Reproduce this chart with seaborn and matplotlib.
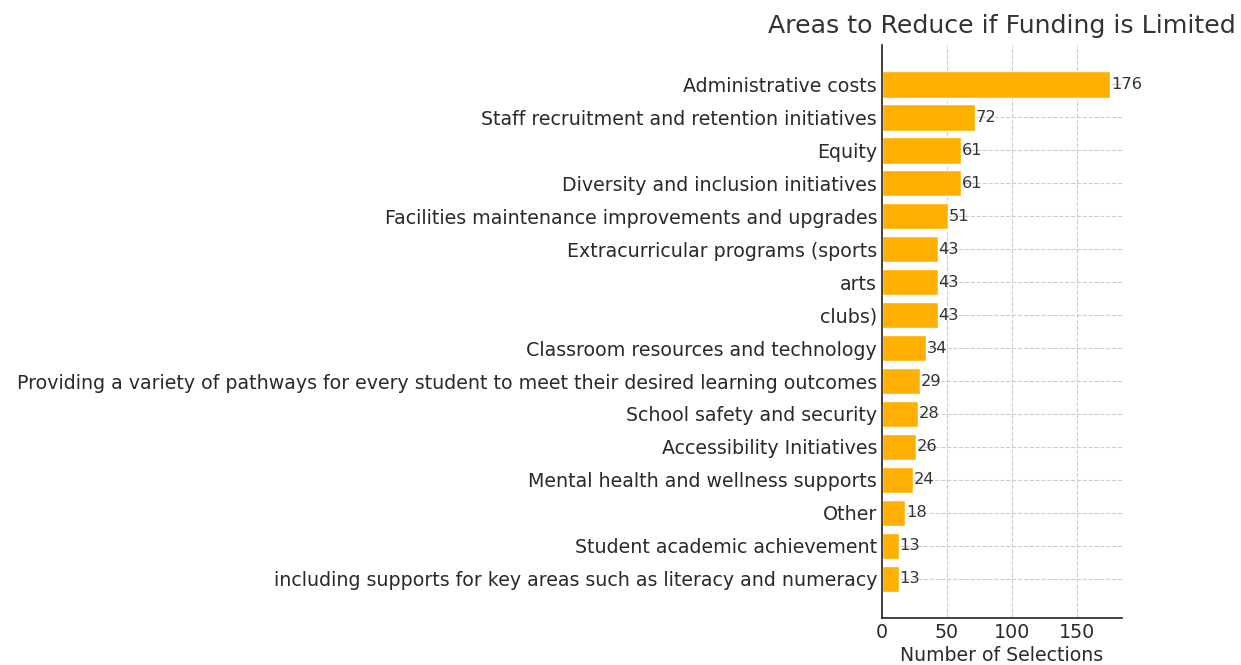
import matplotlib
matplotlib.use("Agg")
import matplotlib.pyplot as plt
import seaborn as sns
import pandas as pd

categories = [
    "Administrative costs",
    "Staff recruitment and retention initiatives",
    "Equity",
    "Diversity and inclusion initiatives",
    "Facilities maintenance improvements and upgrades",
    "Extracurricular programs (sports",
    "arts",
    "clubs)",
    "Classroom resources and technology",
    "Providing a variety of pathways for every student to meet their desired learning outcomes",
    "School safety and security",
    "Accessibility Initiatives",
    "Mental health and wellness supports",
    "Other",
    "Student academic achievement",
    "including supports for key areas such as literacy and numeracy",
]
values = [176, 72, 61, 61, 51, 43, 43, 43, 34, 29, 28, 26, 24, 18, 13, 13]

df = pd.DataFrame({"category": categories, "count": values})

sns.set_style("white")
plt.rcParams["font.family"] = ["DejaVu Sans"]
text_color = "#2a2a2a"

fig = plt.figure(figsize=(12.41, 6.65), dpi=100)
ax = fig.add_axes([0.7107, 0.0707, 0.9040 - 0.7107, 0.932 - 0.0707])

sns.barplot(data=df, y="category", x="count", orient="h", color="#FFB000",
            saturation=1, width=0.8, ax=ax)

for i, v in enumerate(values):
    ax.text(v + 0.5, i, str(v), va="center", ha="left", fontsize=11.7, color="#333333")

ax.set_xlim(0, 184.8)
ax.set_ylim(len(values) - 1 + 1.19, -1.19)
ax.set_xticks([0, 50, 100, 150])
ax.grid(True, linestyle="--", color="#cccccc", linewidth=0.8)
ax.set_axisbelow(True)
for s in ["top", "right"]:
    ax.spines[s].set_visible(False)
for s in ["left", "bottom"]:
    ax.spines[s].set_color("#222222")
    ax.spines[s].set_linewidth(1.2)
ax.tick_params(axis="both", direction="in", length=4, colors="#222222",
               labelcolor=text_color, labelsize=13.7)
ax.set_ylabel("")
ax.set_xlabel("Number of Selections", fontsize=13.6, color=text_color, labelpad=3)
ax.set_title("Areas to Reduce if Funding is Limited", fontsize=18.2, color="#333333", pad=9)

fig.savefig("out.png", dpi=100)
